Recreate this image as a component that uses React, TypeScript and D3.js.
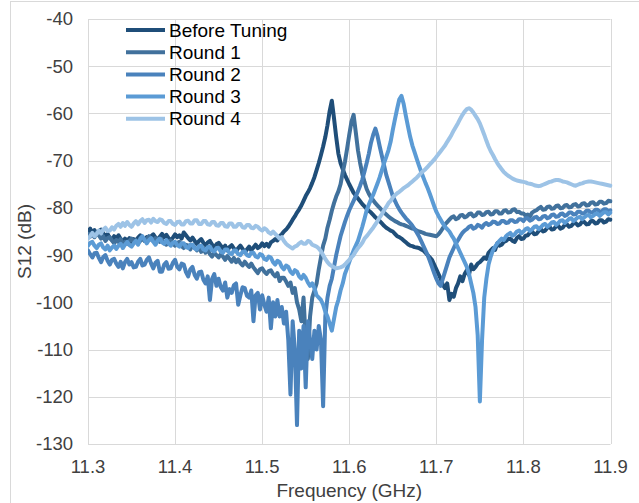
import React from "react";
import * as d3 from "d3";

const W = 639;
const H = 503;

const xTicks = [11.3, 11.4, 11.5, 11.6, 11.7, 11.8, 11.9];
const xTickLabels = ["11.3", "11.4", "11.5", "11.6", "11.7", "11.8", "11.9"];
const yTicks = [-40, -50, -60, -70, -80, -90, -100, -110, -120, -130];

const seriesNames = ["Before Tuning", "Round 1", "Round 2", "Round 3", "Round 4"];
const seriesColors = ["#1F4E79", "#41719C", "#4A82BC", "#5B9BD5", "#9DC3E6"];

// measurement sweep: 11.300 .. 11.900 GHz, sampled every 2.5 MHz (241 points)
const sweepStart = 11.3;
const sweepStep = 0.0025;

// S12 (dB), one row = 50 MHz (20 samples)
const beforeTuning = [
  -85.0,-84.4,-85.3,-84.7,-85.6,-85.0,-84.6,-85.4,-86.0,-85.5,-86.4,-86.8,-86.0,-86.5,-85.8,-86.6,-87.2,-86.5,-87.0,-86.4,
  -87.2,-86.6,-86.9,-86.3,-85.8,-86.5,-86.9,-86.2,-86.7,-86.0,-85.6,-86.3,-86.8,-86.1,-85.5,-86.2,-85.7,-86.4,-86.9,-86.3,
  -85.6,-86.2,-85.8,-86.5,-85.2,-85.8,-86.4,-86.9,-86.3,-87.0,-87.6,-87.0,-86.6,-87.4,-87.9,-87.3,-87.0,-87.8,-88.4,-87.7,
  -87.4,-88.0,-88.6,-88.0,-89.0,-88.3,-87.9,-88.6,-89.2,-88.5,-88.0,-88.7,-89.4,-88.8,-88.2,-89.0,-88.4,-87.8,-88.5,-88.2,
  -87.5,-88.1,-87.6,-88.2,-87.3,-87.0,-86.6,-86.9,-86.0,-85.6,-85.0,-84.6,-84.0,-83.3,-82.5,-81.8,-81.0,-80.3,-79.5,-78.5,
  -77.5,-76.7,-75.8,-74.7,-73.5,-72.0,-70.5,-68.8,-67.0,-65.0,-62.5,-59.5,-57.3,-61.0,-65.0,-68.5,-70.5,-71.8,-73.0,-74.0,
  -75.0,-75.9,-76.8,-77.4,-78.0,-78.6,-79.2,-79.7,-80.2,-80.6,-81.0,-81.5,-82.0,-82.4,-82.8,-83.3,-83.8,-84.2,-84.5,-84.8,
  -85.0,-85.5,-86.0,-86.2,-86.5,-86.9,-87.3,-87.7,-88.0,-88.1,-88.3,-88.4,-88.5,-88.8,-89.0,-89.5,-90.0,-90.5,-91.0,-92.0,
  -93.0,-94.0,-95.0,-96.3,-97.0,-96.0,-99.5,-98.2,-98.8,-97.0,-96.0,-94.5,-95.5,-94.0,-93.2,-94.2,-92.0,-93.0,-92.5,-91.8,
  -91.5,-91.0,-90.5,-90.8,-89.5,-89.0,-88.5,-88.9,-87.5,-88.0,-87.8,-87.2,-87.0,-86.6,-86.5,-87.0,-87.2,-86.4,-86.0,-86.6,
  -86.5,-85.9,-85.8,-85.2,-85.0,-85.6,-85.5,-84.9,-84.5,-85.0,-84.8,-84.2,-84.0,-84.6,-84.5,-83.9,-83.8,-84.4,-84.2,-83.6,
  -83.5,-84.0,-83.8,-83.3,-83.2,-83.7,-83.5,-82.9,-83.0,-83.5,-83.4,-82.8,-82.8,-83.3,-83.2,-82.6,-82.6,-83.1,-82.9,-82.4,
  -82.5,
];

const round1 = [
  -85.5,-86.1,-85.6,-86.2,-85.2,-85.8,-86.5,-86.0,-87.0,-86.4,-86.2,-86.9,-87.5,-86.8,-87.2,-86.6,-87.8,-87.2,-87.6,-87.0,
  -86.5,-87.2,-86.8,-87.5,-87.0,-86.4,-87.0,-86.6,-86.0,-86.7,-87.0,-86.4,-86.5,-87.2,-86.8,-87.5,-87.8,-87.1,-86.9,-87.6,
  -88.0,-87.4,-87.2,-88.1,-88.5,-87.8,-88.0,-88.8,-87.9,-88.4,-89.0,-88.3,-89.3,-88.6,-89.5,-88.8,-89.8,-90.3,-89.5,-90.0,
  -90.5,-89.8,-90.3,-91.0,-90.2,-90.8,-91.4,-90.6,-91.5,-90.9,-91.7,-92.2,-91.4,-92.0,-92.5,-91.8,-92.6,-93.2,-93.8,-93.0,
  -92.8,-93.5,-94.0,-93.4,-93.2,-94.0,-94.5,-93.8,-95.5,-94.8,-94.8,-95.6,-96.5,-95.8,-98.0,-97.0,-100.0,-101.5,-104.0,-99.0,
  -108.0,-112.0,-103.0,-99.0,-97.5,-96.0,-93.0,-90.5,-88.0,-86.5,-84.2,-82.5,-80.6,-79.0,-77.6,-76.5,-75.0,-72.5,-70.3,-67.5,
  -64.5,-61.8,-60.3,-64.0,-67.8,-70.5,-72.8,-74.5,-76.0,-77.0,-77.8,-78.4,-79.0,-79.5,-80.0,-80.5,-81.0,-81.4,-81.8,-82.2,
  -82.5,-82.8,-83.0,-83.3,-83.5,-83.6,-83.8,-84.0,-84.2,-84.4,-84.5,-84.8,-85.0,-85.1,-85.3,-85.5,-85.6,-85.7,-85.8,-85.9,
  -86.0,-85.6,-85.0,-84.3,-83.5,-83.0,-82.5,-82.0,-81.8,-82.4,-82.2,-81.6,-81.5,-82.0,-81.8,-81.3,-81.2,-81.8,-81.6,-81.0,
  -81.0,-81.5,-81.4,-80.9,-80.8,-81.4,-81.3,-80.7,-80.7,-81.2,-81.2,-80.6,-80.5,-81.0,-80.9,-80.4,-80.3,-80.9,-80.8,-81.2,
  -81.2,-81.6,-81.4,-81.8,-81.0,-80.7,-80.5,-80.1,-79.8,-80.4,-80.3,-79.8,-79.7,-80.2,-80.1,-79.6,-79.5,-80.1,-80.0,-79.5,
  -79.4,-79.9,-79.8,-79.3,-79.2,-79.7,-79.6,-79.1,-79.0,-79.5,-79.4,-78.9,-78.8,-79.3,-79.2,-78.7,-78.7,-79.1,-79.0,-78.5,
  -78.6,
];

const round2 = [
  -89.0,-89.8,-90.5,-89.6,-89.5,-90.6,-91.5,-90.4,-90.0,-91.2,-92.0,-91.0,-90.8,-91.8,-92.5,-91.4,-92.8,-91.5,-90.8,-92.0,
  -91.5,-92.6,-92.5,-91.4,-90.8,-92.2,-92.0,-91.0,-90.5,-91.8,-92.8,-91.6,-91.2,-93.5,-93.5,-92.0,-91.5,-92.9,-92.8,-91.6,
  -91.0,-92.5,-93.0,-91.8,-92.0,-93.6,-94.5,-93.0,-92.5,-94.2,-95.0,-93.6,-93.5,-95.2,-96.0,-94.5,-99.5,-95.0,-94.0,-96.5,
  -95.0,-96.8,-97.5,-95.8,-99.0,-97.2,-98.0,-96.4,-96.0,-100.5,-98.5,-96.8,-97.0,-98.6,-99.0,-97.5,-104.0,-98.5,-98.0,-101.5,
  -98.5,-100.5,-102.0,-99.0,-105.5,-100.0,-103.0,-99.5,-103.0,-101.0,-104.5,-102.0,-108.0,-119.5,-104.0,-110.0,-126.0,-106.0,-114.0,-105.0,
  -118.0,-104.0,-108.0,-112.0,-106.0,-110.0,-105.0,-108.0,-122.0,-103.0,-99.0,-96.5,-95.0,-92.5,-90.0,-88.0,-86.0,-84.5,-83.0,-81.7,
  -80.5,-79.5,-78.5,-77.5,-76.5,-75.3,-74.0,-72.3,-70.5,-68.5,-66.2,-64.5,-63.2,-64.8,-67.0,-69.0,-71.0,-73.0,-74.5,-76.0,
  -77.5,-78.5,-79.5,-80.3,-81.0,-81.6,-82.2,-82.7,-83.2,-83.8,-84.5,-85.2,-86.0,-87.0,-88.0,-89.0,-90.0,-91.2,-92.5,-93.8,
  -95.0,-96.0,-96.5,-95.0,-93.5,-92.0,-90.5,-89.5,-88.5,-87.5,-86.8,-86.0,-85.3,-84.8,-84.5,-84.0,-83.8,-84.4,-84.2,-83.6,
  -83.8,-84.2,-83.5,-83.2,-83.6,-83.4,-82.9,-83.0,-83.4,-83.3,-82.8,-82.8,-83.2,-83.1,-82.6,-82.6,-83.0,-82.9,-82.4,-82.4,
  -82.8,-82.2,-82.2,-82.7,-82.5,-82.0,-81.9,-82.4,-82.3,-81.8,-81.7,-82.2,-82.0,-81.5,-81.4,-81.9,-81.8,-81.3,-81.2,-81.7,
  -81.5,-81.0,-81.0,-81.4,-81.3,-80.8,-80.8,-81.2,-81.1,-80.6,-80.6,-81.0,-80.9,-80.4,-80.4,-80.8,-80.7,-80.3,-80.3,-80.7,
  -80.5,
];

const round3 = [
  -88.0,-87.4,-87.2,-88.0,-88.5,-87.8,-87.5,-88.4,-88.8,-88.0,-89.0,-88.4,-88.0,-88.7,-88.0,-87.6,-88.5,-87.8,-87.2,-87.9,
  -88.2,-87.5,-87.0,-87.8,-86.5,-86.0,-86.8,-87.5,-86.8,-86.4,-87.2,-87.8,-86.9,-86.5,-87.3,-87.6,-86.8,-87.5,-88.0,-87.4,
  -87.2,-87.9,-88.2,-87.5,-87.5,-88.3,-88.5,-87.8,-87.8,-88.6,-88.8,-88.1,-88.0,-88.8,-89.0,-88.3,-88.2,-89.0,-89.2,-88.5,
  -88.5,-89.3,-89.5,-88.8,-88.8,-89.6,-89.8,-89.0,-89.0,-89.8,-90.0,-89.3,-89.2,-90.0,-90.2,-89.5,-89.5,-90.3,-90.5,-89.8,
  -90.0,-90.8,-91.0,-90.3,-90.5,-91.5,-92.0,-91.2,-91.5,-92.5,-93.0,-92.2,-92.5,-93.5,-94.0,-93.2,-93.5,-94.5,-95.0,-94.2,
  -94.8,-95.8,-96.5,-96.0,-97.0,-98.5,-99.0,-99.5,-100.5,-102.0,-103.0,-104.5,-106.0,-103.5,-101.0,-99.5,-97.5,-96.0,-94.0,-92.8,
  -91.5,-90.2,-89.0,-88.0,-87.0,-85.5,-84.0,-82.3,-80.5,-79.3,-78.2,-77.2,-76.0,-74.8,-73.5,-72.0,-70.5,-69.2,-67.8,-66.0,
  -63.5,-61.2,-59.0,-57.0,-56.3,-58.0,-60.5,-62.8,-65.0,-66.8,-68.2,-69.6,-71.0,-72.3,-73.5,-74.7,-75.8,-77.0,-78.3,-79.6,
  -80.8,-81.7,-82.5,-83.3,-84.0,-84.5,-85.0,-85.8,-86.5,-87.5,-88.5,-89.5,-90.5,-91.5,-92.5,-94.0,-96.0,-98.0,-101.0,-107.0,
  -121.0,-108.0,-99.0,-95.0,-92.0,-90.3,-89.0,-88.2,-87.5,-87.0,-86.5,-86.8,-86.0,-85.6,-85.3,-85.9,-85.6,-85.0,-84.8,-85.4,
  -85.0,-84.5,-84.3,-84.9,-84.5,-84.0,-83.9,-84.5,-84.1,-83.6,-83.4,-84.0,-83.6,-83.1,-83.0,-83.6,-83.2,-82.7,-82.6,-83.2,
  -82.8,-82.3,-82.2,-82.8,-82.4,-82.0,-81.9,-82.4,-82.0,-81.6,-81.5,-82.0,-81.7,-81.3,-81.2,-81.7,-81.3,-80.9,-80.9,-81.4,
  -81.0,
];

const round4 = [
  -86.5,-86.0,-85.3,-86.0,-85.5,-84.8,-85.4,-84.6,-84.2,-84.9,-84.8,-84.1,-84.6,-83.8,-83.4,-84.0,-83.2,-83.8,-83.0,-83.6,
  -84.0,-83.3,-82.8,-83.5,-82.8,-82.4,-83.2,-82.6,-82.5,-83.1,-82.3,-82.8,-83.0,-82.4,-82.6,-83.2,-83.4,-82.8,-82.8,-83.4,
  -83.6,-83.0,-82.9,-83.5,-83.5,-82.8,-82.7,-83.3,-83.3,-82.6,-82.6,-83.4,-83.4,-82.8,-82.8,-83.5,-83.6,-83.0,-83.0,-83.7,
  -83.8,-83.2,-83.2,-83.9,-84.0,-83.3,-83.3,-84.0,-84.0,-83.4,-83.4,-84.1,-84.2,-83.6,-83.6,-84.2,-84.3,-83.8,-84.0,-84.5,
  -84.8,-84.3,-84.6,-85.2,-85.5,-85.0,-85.5,-86.0,-86.5,-86.2,-87.0,-87.6,-88.0,-88.3,-88.6,-88.2,-88.0,-87.5,-87.2,-87.6,
  -87.6,-87.0,-87.2,-87.8,-88.0,-88.2,-88.6,-89.2,-90.0,-90.8,-91.5,-92.0,-92.3,-92.6,-92.8,-92.7,-92.6,-92.4,-92.0,-91.5,
  -91.0,-90.5,-90.0,-89.2,-88.5,-88.0,-87.4,-86.5,-86.0,-85.4,-84.8,-84.2,-83.5,-82.8,-82.0,-81.3,-80.5,-79.8,-79.0,-78.5,
  -77.8,-77.3,-76.9,-76.6,-76.2,-75.8,-75.5,-75.2,-74.8,-74.4,-74.0,-73.6,-73.1,-72.6,-72.2,-71.8,-71.3,-70.8,-70.3,-69.8,
  -69.2,-68.6,-68.0,-67.4,-66.8,-66.0,-65.3,-64.5,-63.6,-62.8,-62.0,-61.1,-60.3,-59.6,-59.1,-58.9,-59.2,-59.8,-60.5,-61.2,
  -62.1,-63.3,-64.5,-65.8,-67.0,-68.0,-68.8,-69.7,-70.5,-71.2,-71.8,-72.4,-72.8,-73.2,-73.5,-73.8,-74.0,-74.2,-74.3,-74.4,
  -74.5,-74.6,-74.8,-74.9,-75.0,-75.2,-75.3,-75.4,-75.3,-75.1,-74.9,-74.7,-74.5,-74.4,-74.2,-74.1,-74.1,-74.2,-74.4,-74.5,
  -74.6,-74.8,-75.0,-75.2,-75.3,-75.1,-74.9,-74.8,-74.6,-74.5,-74.4,-74.4,-74.5,-74.6,-74.7,-74.8,-74.9,-75.0,-75.1,-75.2,
  -75.3,
];

const allSeries = [beforeTuning, round1, round2, round3, round4];

export default function App() {
  const left = 88, right = 610.5, top = 19, bottom = 444;
  const x = d3.scaleLinear().domain([11.3, 11.9]).range([left, right]);
  const y = d3.scaleLinear().domain([-130, -40]).range([bottom, top]);
  const line = d3
    .line<number>()
    .x((_d, i) => x(sweepStart + i * sweepStep))
    .y((d) => y(d))
    .curve(d3.curveLinear);
  const font = "'Liberation Sans', Arial, sans-serif";
  const grid = "#d9d9d9";

  return (
    <svg
      width={W}
      height={H}
      style={{ position: "absolute", left: 0, top: 0, background: "#fff" }}
      fontFamily={font}
    >
      <rect x={10.5} y={1.5} width={700} height={600} fill="#fff" stroke={grid} strokeWidth={1} />
      <defs>
        <clipPath id="plotclip">
          <rect x={left} y={top - 2} width={right - left + 2} height={bottom - top + 4} />
        </clipPath>
      </defs>
      {yTicks.map((t) => (
        <line key={"gy" + t} x1={left} x2={right} y1={Math.round(y(t)) + 0.5} y2={Math.round(y(t)) + 0.5} stroke={grid} strokeWidth={1} />
      ))}
      {xTicks.map((t) => (
        <line key={"gx" + t} x1={Math.round(x(t)) + 0.5} x2={Math.round(x(t)) + 0.5} y1={top} y2={bottom} stroke={grid} strokeWidth={1} />
      ))}
      <g clipPath="url(#plotclip)">
        {allSeries.map((s, i) => (
          <path
            key={seriesNames[i]}
            d={line(s) || ""}
            fill="none"
            stroke={seriesColors[i]}
            strokeWidth={4}
            strokeLinejoin="round"
            strokeLinecap="round"
          />
        ))}
      </g>
      {yTicks.map((t) => (
        <text key={"ty" + t} x={73} y={y(t)} dy="0.35em" textAnchor="end" fontSize={18.5} fill="#404040">
          {String(t)}
        </text>
      ))}
      {xTicks.map((t, i) => (
        <text key={"tx" + t} x={x(t)} y={473} textAnchor="middle" fontSize={18.5} fill="#404040">
          {xTickLabels[i]}
        </text>
      ))}
      <text x={(left + right) / 2} y={497} textAnchor="middle" fontSize={19} fill="#404040">
        Frequency (GHz)
      </text>
      <text
        transform={`translate(31, ${(top + bottom) / 2 + 10}) rotate(-90)`}
        textAnchor="middle"
        fontSize={19}
        fill="#404040"
      >
        S12 (dB)
      </text>
      {seriesNames.map((n, i) => {
        const cy = 30 + i * 22.2;
        return (
          <g key={"lg" + n}>
            <line x1={126} x2={165} y1={cy} y2={cy} stroke={seriesColors[i]} strokeWidth={4} />
            <text x={169} y={cy} dy="0.35em" fontSize={19} fill="#000">
              {n}
            </text>
          </g>
        );
      })}
    </svg>
  );
}
